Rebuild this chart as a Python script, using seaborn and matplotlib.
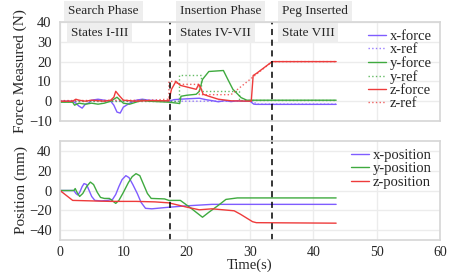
import matplotlib
matplotlib.use("Agg")
import matplotlib.pyplot as plt
import seaborn as sns
import pandas as pd

# ---- force data (time s, force N) ----
x_force_t = [0, 2, 2.5, 3, 3.5, 4, 4.5, 5, 6, 7, 8, 8.5, 9, 9.5, 10, 11, 12, 13, 14, 16, 17.2, 18, 20, 22, 23,
             24, 25, 26, 27, 28, 29, 30, 30.6, 31, 35, 43.6]
x_force = [0, 0, -1, -2.5, -3.5, -1.5, -1, 0.5, 1, 0.5, 0, -2, -5.5, -6, -3, -1, 0.5, 1, 0.5, 0.2, 0, 0.8, 1.2,
           1.5, 0.8, 0.3, -0.3, 0.3, -0.2, 0.2, 0, 0, -1.5, -1.6, -1.6, -1.6]

y_force_t = [0, 2, 2.3, 3, 4, 5, 6, 7, 8, 8.5, 9, 9.5, 10, 11, 12, 13, 14, 17.2, 18.5, 18.9, 19.1, 20, 21.5, 22,
             22.5, 23.5, 25.8, 26.5, 27.3, 28.6, 29.5, 43.6]
y_force = [-0.5, -0.5, -2, -1, -1.5, -1, -1.5, -1, 0, 1, 2, 0.5, -1, -1.5, -0.5, 0.5, 0, -0.5, -1, -1.2, 2.5, 3,
           3.5, 5, 11, 15, 15.5, 11, 6, 1.8, 0.5, 0.5]

z_force_t = [0, 2, 2.5, 3, 4, 5, 7, 8, 8.5, 8.8, 9.3, 10, 12, 14, 17.2, 17.6, 18.3, 19, 21.5, 21.9, 22.2, 22.6,
             23.5, 25, 27, 30.2, 30.5, 31, 33.5, 43.6]
z_force = [0, 0, 1, 0.5, 0, 0.5, 0, 0.5, 2, 5, 3, 0.5, 0, 0.3, 0.2, 6, 10, 8, 6, 8.5, 7, 3.5, 2.5, 1, 0.2, 0, 13,
           14, 20, 20]

x_ref_t = [0, 30.5, 31, 43.6]
x_ref = [0, 0, -1.5, -1.5]
y_ref_t = [0, 18.8, 18.8, 22.2, 22.2, 28.3, 28.3, 43.6]
y_ref = [0, 0, 13, 13, 5, 5, 0.5, 0.5]
z_ref_t = [0, 14, 17.2, 17.2, 18.5, 18.5, 22, 22, 27, 33.5, 43.6]
z_ref = [0.3, 0.5, 1, 10, 10, 8.5, 8.5, 3.3, 3.3, 20, 20]

# ---- position data (time s, position mm) ----
x_pos_t = [0, 2.2, 2.5, 2.8, 3.1, 3.5, 3.8, 4.2, 4.6, 5.0, 5.5, 6.5, 7.5, 8.3, 8.8, 9.3, 9.8, 10.4, 10.9, 11.5,
           12.2, 12.8, 13.5, 14.5, 17, 20, 24, 43.6]
x_pos = [0, 0, -3, -4.5, -2, 4, 7, 6, 0, -6, -10, -10.5, -10, -9, -4, 4, 11, 15, 13, 6, -3, -12, -18, -18.5, -17,
         -15.5, -14, -14]

y_pos_t = [0, 2.2, 2.4, 2.7, 3.1, 3.6, 4.2, 4.8, 5.3, 5.9, 6.4, 7, 7.8, 8.4, 8.8, 9.3, 10, 10.8, 11.4, 12, 12.6,
           13.2, 13.8, 14.4, 16.5, 17.2, 19, 20.5, 22.5, 23.5, 25, 26.2, 28, 43.6]
y_pos = [0, 0, 2, -2, -6, -3, 4, 8.5, 6, -2, -7, -8, -8, -11, -13, -10, -2, 8, 14, 17, 15, 6, -3, -8, -8.5, -10,
         -10, -17, -27, -22, -15, -9, -7.5, -7.5]

z_pos_t = [0, 2, 8, 12, 15, 17.2, 19.8, 22, 24, 27.5, 28.5, 30.4, 31, 43.6]
z_pos = [0, -10, -11, -11, -11.5, -12.5, -16.5, -19.5, -18.5, -20.5, -24, -31.5, -32.5, -33]

x_ticks = [0, 10, 20, 30, 40, 50, 60]
phase_lines = [17.3, 33.5]

c_x, c_y, c_z = "#7f5cff", "#3faa3f", "#ee3b3b"

sns.set_theme(style="whitegrid")
plt.rcParams["font.family"] = ["Liberation Serif", "DejaVu Serif"]
plt.rcParams["axes.edgecolor"] = "#d6d6d6"
plt.rcParams["grid.color"] = "#ececec"

fig = plt.figure(figsize=(4.71, 2.72), dpi=100)
W, H = 471, 272
ax1 = fig.add_axes([60 / W, 1 - 121 / H, 380 / W, 99 / H])
ax2 = fig.add_axes([60 / W, 1 - 240 / H, 380 / W, 99 / H])


def draw(ax, t, v, label, color, ls="-", lw=1.0, alpha=1.0):
    df = pd.DataFrame({"t": t, "v": v})
    sns.lineplot(data=df, x="t", y="v", ax=ax, estimator=None, sort=False, color=color,
                 linestyle=ls, linewidth=lw, alpha=alpha, label=label)


draw(ax1, x_force_t, x_force, "x-force", c_x)
draw(ax1, x_ref_t, x_ref, "x-ref", c_x, ls=":", alpha=0.8)
draw(ax1, y_force_t, y_force, "y-force", c_y)
draw(ax1, y_ref_t, y_ref, "y-ref", c_y, ls=":", alpha=0.8)
draw(ax1, z_force_t, z_force, "z-force", c_z)
draw(ax1, z_ref_t, z_ref, "z-ref", c_z, ls=":", alpha=0.8)

draw(ax2, x_pos_t, x_pos, "x-position", c_x)
draw(ax2, y_pos_t, y_pos, "y-position", c_y)
draw(ax2, z_pos_t, z_pos, "z-position", c_z)

for ax in (ax1, ax2):
    ax.set_xlim(0, 60)
    ax.set_xticks(x_ticks)
    ax.tick_params(labelsize=10.5, pad=0)
    for s in ax.spines.values():
        s.set_linewidth(1.2)
    ax.legend(loc="upper right", frameon=False, fontsize=10.5, handlelength=1.2,
              handletextpad=0.3, labelspacing=0.0, borderaxespad=0.15)

ax1.set_ylim(-10, 40)
ax1.set_yticks([-10, 0, 10, 20, 30, 40])
ax1.set_xticklabels([])
ax1.set_xlabel("")
ax1.set_ylabel("Force Measured (N)", fontsize=11, labelpad=1)

ax2.set_ylim(-50, 50)
ax2.set_yticks([-40, -20, 0, 20, 40])
ax2.tick_params(axis="x", pad=-1.5, labelsize=10)
ax2.set_xlabel("Time(s)", fontsize=10.5)
ax2.xaxis.set_label_coords(0.5, -0.185)
ax2.set_ylabel("Position (mm)", fontsize=11, labelpad=1)

for x in phase_lines:
    ax1.axvline(x, ymin=-0.21, ymax=1, color="black", linestyle=(0, (4, 3)), linewidth=1.1, clip_on=False)
    ax2.axvline(x, color="black", linestyle=(0, (4, 3)), linewidth=1.1)

box = dict(boxstyle="square,pad=0.3", facecolor="#eeeeee", edgecolor="none")
tr = ax1.get_xaxis_transform()
for t, txt in [(1.3, "Search Phase"), (18.9, "Insertion Phase"), (35.0, "Peg Inserted")]:
    ax1.text(t, 1.115, txt, transform=tr, fontsize=9.5, va="center", ha="left", bbox=box, clip_on=False)
for t, txt in [(1.7, "States I-III"), (18.9, "States IV-VII"), (35.0, "State VIII")]:
    ax1.text(t, 0.89, txt, transform=tr, fontsize=9.5, va="center", ha="left", bbox=box)

fig.savefig("out.png", dpi=100)
